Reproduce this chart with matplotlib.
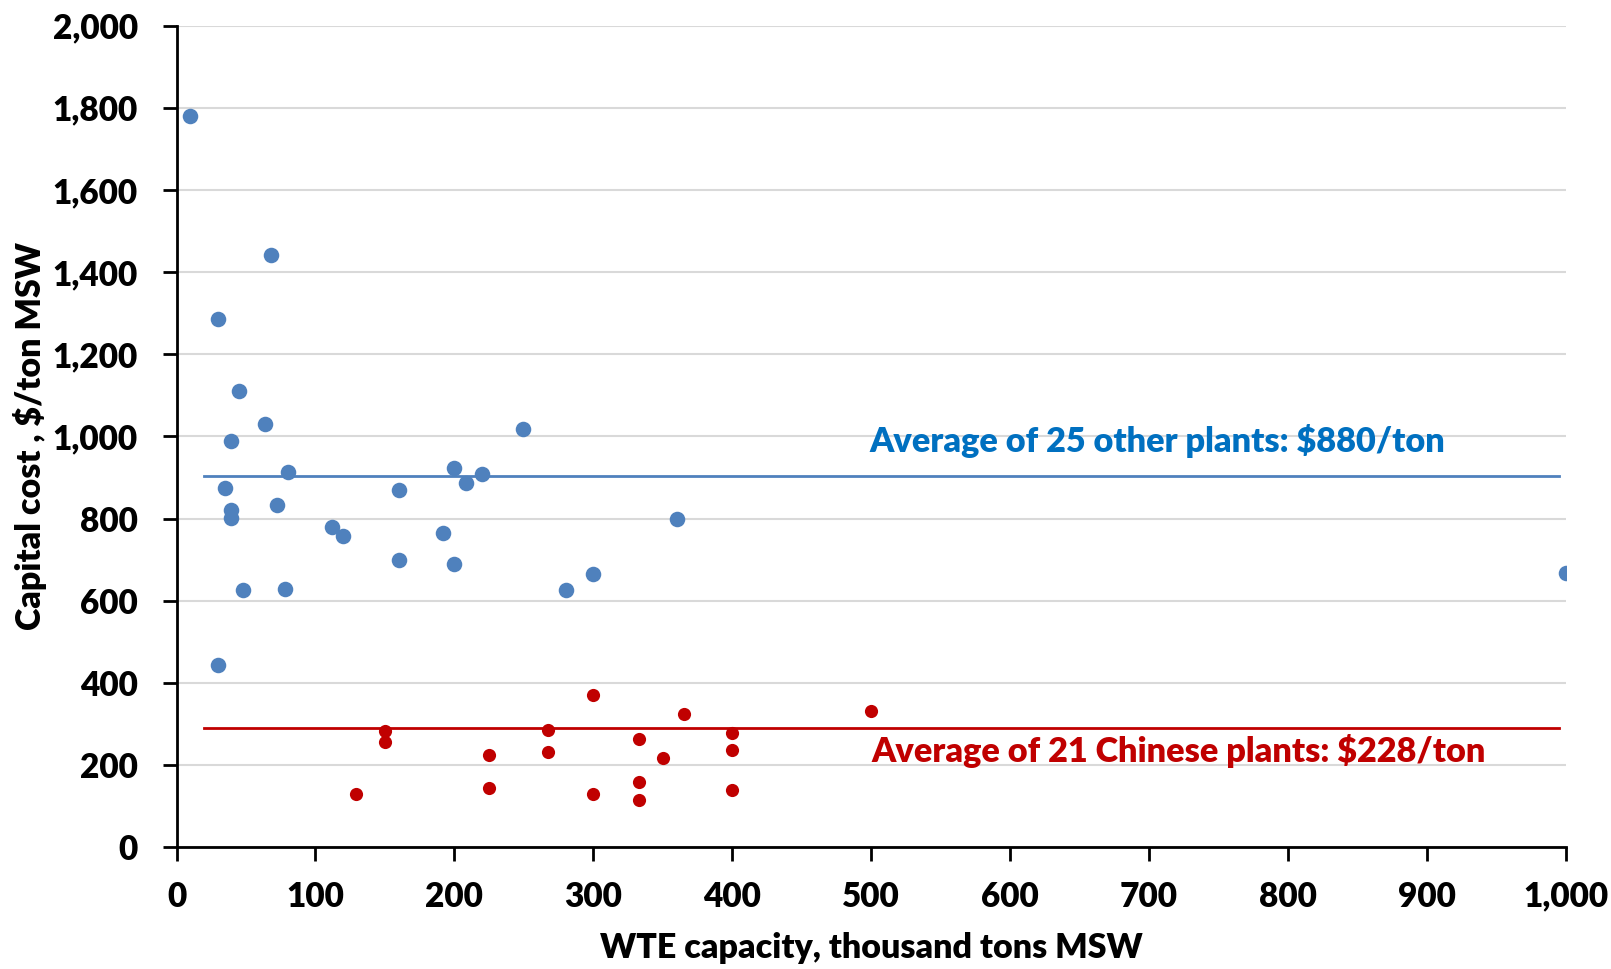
import matplotlib
matplotlib.use('Agg')
import matplotlib.pyplot as plt
from matplotlib.ticker import FuncFormatter

# other (non-Chinese) plants
other_x = [10, 68, 30, 45, 64, 39, 80, 35, 72, 39, 39, 112, 120, 48, 78, 30,
           160, 160, 200, 208, 220, 192, 200, 249, 360, 280, 300, 1000]
other_y = [1780, 1441, 1285, 1111, 1031, 988, 914, 875, 833, 821, 801, 780, 759, 626, 628, 445,
           869, 699, 924, 886, 909, 765, 690, 1018, 800, 627, 666, 667]

# Chinese plants
china_x = [129, 150, 150, 225, 225, 267, 267, 300, 300, 333, 333, 333, 350, 365, 400, 400, 400, 500]
china_y = [129, 284, 257, 224, 144, 286, 232, 371, 130, 265, 158, 116, 218, 324, 278, 238, 139, 332]

other_avg = 905
china_avg = 290
avg_span = [20, 995]

blue = '#4F81BD'
red = '#C00000'

plt.rcParams['font.family'] = ['Lato', 'DejaVu Sans']
plt.rcParams['font.weight'] = 'heavy'

fig = plt.figure(figsize=(16.11, 9.69), dpi=100)
ax = fig.add_axes([0.1096, 0.1255, 0.8624, 0.8481])

ax.set_axisbelow(True)
ax.grid(axis='y', color='#D9D9D9', linewidth=1.5)

ax.plot(avg_span, [other_avg, other_avg], color=blue, linewidth=2)
ax.plot(avg_span, [china_avg, china_avg], color=red, linewidth=2)

ax.scatter(other_x, other_y, s=125, color=blue, zorder=3, linewidths=0)
ax.scatter(china_x, china_y, s=90, color=red, zorder=3, linewidths=0)

ax.text(499, 962, 'Average of 25 other plants: $880/ton', color='#0070C0',
        fontsize=24.7, fontweight='heavy')
ax.text(500, 207, 'Average of 21 Chinese plants: $228/ton', color=red,
        fontsize=24.7, fontweight='heavy')

ax.set_xlim(0, 1000)
ax.set_ylim(0, 2000)
ax.set_xticks(range(0, 1001, 100))
ax.set_yticks(range(0, 2001, 200))
fmt = FuncFormatter(lambda v, p: '{:,.0f}'.format(v))
ax.xaxis.set_major_formatter(fmt)
ax.yaxis.set_major_formatter(fmt)

for s in ['top', 'right']:
    ax.spines[s].set_visible(False)
for s in ['left', 'bottom']:
    ax.spines[s].set_linewidth(2)
ax.tick_params(direction='out', length=10, width=2, labelsize=24)
ax.tick_params(axis='y', pad=18)
ax.tick_params(axis='x', pad=14)

ax.set_xlabel('WTE capacity, thousand tons MSW', fontsize=24.5, fontweight='heavy', labelpad=14)
ax.set_ylabel('Capital cost , $/ton MSW', fontsize=24.5, fontweight='heavy', labelpad=4)

fig.savefig('out.png', dpi=100)
